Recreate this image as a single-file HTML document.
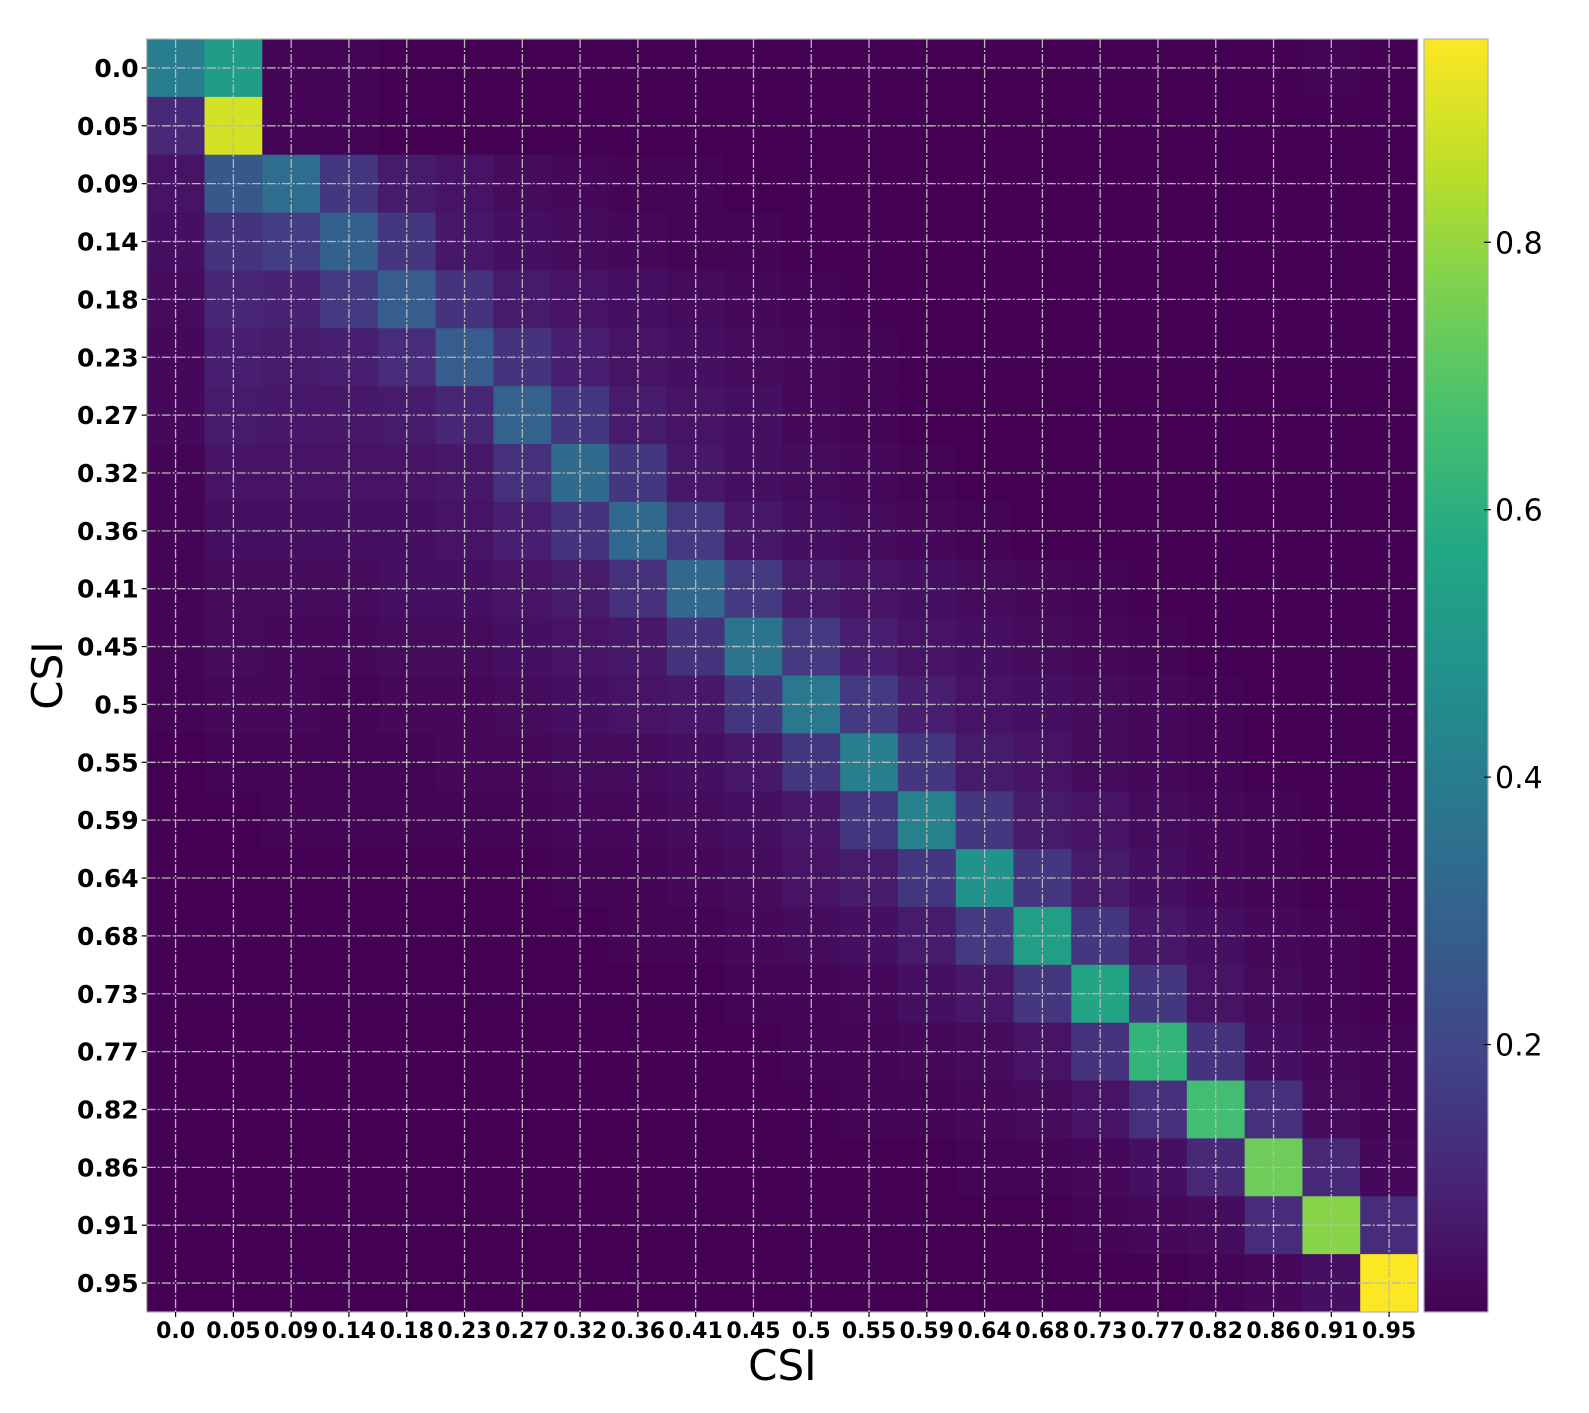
<!DOCTYPE html>
<html><head><meta charset="utf-8"><style>
html,body{margin:0;padding:0;background:#fff;}
svg text{font-family:"DejaVu Sans","Liberation Sans",sans-serif;fill:#000;}
</style></head><body>
<svg id="chart" width="1589" height="1408" viewBox="0 0 1589 1408" xmlns="http://www.w3.org/2000/svg">
<g id="cells"></g>
<g id="grid"></g>
<g id="axes"></g>
<g id="cbar"></g>
</svg>
<script>
const categories = ["0.0","0.05","0.09","0.14","0.18","0.23","0.27","0.32","0.36","0.41","0.45","0.5","0.55","0.59","0.64","0.68","0.73","0.77","0.82","0.86","0.91","0.95"];
const row00=[.40,.52,.01,.01,0,0,0,0,0,0,0,0,0,0,0,0,0,0,0,0,.01,0];
const row01=[.11,.89,.01,.01,0,0,0,0,0,0,0,0,0,0,0,0,0,0,0,0,0,0];
const row02=[.05,.26,.34,.15,.07,.05,.03,.02,.01,.01,0,0,0,0,0,0,0,0,0,0,0,0];
const row03=[.04,.14,.17,.29,.15,.06,.04,.03,.02,.01,.01,0,0,0,0,0,0,0,0,0,0,0];
const row04=[.03,.10,.09,.16,.28,.14,.07,.05,.04,.03,.02,.01,0,0,0,0,0,0,0,0,0,0];
const row05=[.02,.08,.07,.08,.12,.28,.14,.08,.05,.04,.03,.02,.01,0,0,0,0,0,0,0,0,0];
const row06=[.02,.07,.06,.06,.07,.10,.30,.15,.07,.05,.04,.02,.01,0,0,0,0,0,0,0,0,0];
const row07=[.01,.05,.05,.05,.05,.06,.13,.33,.15,.06,.04,.03,.02,.01,0,0,0,0,0,0,0,0];
const row08=[.01,.04,.04,.04,.04,.05,.08,.14,.32,.16,.06,.04,.03,.02,.01,0,0,0,0,0,0,0];
const row09=[.01,.03,.03,.03,.04,.04,.05,.07,.13,.32,.16,.07,.05,.04,.03,.02,.01,0,0,0,0,0];
const row10=[.01,.03,.02,.02,.03,.03,.04,.05,.06,.14,.36,.16,.08,.05,.04,.03,.02,.01,0,0,0,0];
const row11=[.01,.02,.02,.01,.02,.02,.03,.04,.05,.06,.15,.38,.16,.08,.05,.04,.03,.02,.01,0,0,0];
const row12=[0,.01,.01,.01,.01,.02,.02,.03,.03,.04,.06,.15,.40,.15,.07,.05,.03,.02,.01,0,0,0];
const row13=[0,0,.01,.01,.01,.01,.01,.02,.02,.03,.04,.06,.15,.42,.15,.07,.05,.03,.02,.01,0,0];
const row14=[0,0,0,0,0,0,0,.01,.01,.02,.03,.05,.07,.15,.48,.15,.07,.04,.02,.01,0,0];
const row15=[0,0,0,0,0,0,0,0,.01,.01,.02,.03,.04,.07,.16,.53,.15,.06,.04,.02,.01,0];
const row16=[0,0,0,0,0,0,0,0,0,0,.01,.01,.02,.04,.06,.15,.56,.15,.05,.03,.01,0];
const row17=[0,0,0,0,0,0,0,0,0,0,0,.01,.01,.02,.03,.05,.14,.62,.14,.04,.02,.01];
const row18=[0,0,0,0,0,0,0,0,0,0,0,0,.01,.01,.02,.03,.05,.13,.66,.13,.03,.01];
const row19=[0,0,0,0,0,0,0,0,0,0,0,0,0,0,.01,.01,.02,.04,.11,.74,.11,.02];
const row20=[0,0,0,0,0,0,0,0,0,0,0,0,0,0,0,0,.01,.02,.03,.12,.78,.12];
const row21=[0,0,0,0,0,0,0,0,0,0,0,0,0,0,0,0,0,0,.01,.02,.04,.95];
const matrix=[row00,row01,row02,row03,row04,row05,row06,row07,row08,row09,row10,row11,row12,row13,row14,row15,row16,row17,row18,row19,row20,row21];
const cbarTicks=[0.2,0.4,0.6,0.8];
const vmin=0, vmax=0.952;

const NS="http://www.w3.org/2000/svg";
const L=146.7, T=39, R=1418, B=1312;
const n=categories.length, cw=(R-L)/n, ch=(B-T)/n;
const xPos=i=>L+i*cw, yPos=j=>T+j*ch;
const vir=["#440154","#482475","#414487","#355f8d","#2a788e","#21918c","#22a884","#44bf70","#7ad151","#bddf26","#fde725"];
function hex(h){return [1,3,5].map(k=>parseInt(h.substr(k,2),16));}
function color(v){let t=Math.max(0,Math.min(1,(v-vmin)/(vmax-vmin)))*10;let i=Math.min(9,Math.floor(t)),f=t-i;const a=hex(vir[i]),b=hex(vir[i+1]);return "rgb("+a.map((c,k)=>Math.round(c+(b[k]-c)*f)).join(",")+")";}
function mk(tag,attrs,parent){const e=document.createElementNS(NS,tag);for(const k in attrs)e.setAttribute(k,attrs[k]);parent.appendChild(e);return e;}

const cells=document.getElementById('cells');
matrix.forEach((row,j)=>row.forEach((v,i)=>{
  const r=mk('rect',{x:xPos(i),y:yPos(j),width:cw+0.5,height:ch+0.5,fill:color(v)},cells);
  
  
}));
const grid=document.getElementById('grid');
for(let i=0;i<n;i++){
  const gx=mk('line',{x1:xPos(i)+cw/2,x2:xPos(i)+cw/2,y1:T,y2:B,stroke:"#b8b8b8","stroke-width":1.3,"stroke-dasharray":"9,2,2,2"},grid);
  
  
  const gy=mk('line',{y1:yPos(i)+ch/2,y2:yPos(i)+ch/2,x1:L,x2:R,stroke:"#b8b8b8","stroke-width":1.3,"stroke-dasharray":"9,2,2,2"},grid);
  
  
}
const axes=document.getElementById('axes');
const fr=mk('rect',{x:L,y:T,width:R-L,height:B-T,fill:"none",stroke:"#b0b0b0","stroke-width":1.2},axes);


categories.forEach((c,i)=>{
  const cx=xPos(i)+cw/2, cy=yPos(i)+ch/2;
  mk('line',{x1:cx,x2:cx,y1:B,y2:B+5,stroke:"#000","stroke-width":1.2},axes);
  mk('line',{x1:L-5,x2:L,y1:cy,y2:cy,stroke:"#000","stroke-width":1.2},axes);
  const xt=mk('text',{x:cx,y:B+26,"text-anchor":"middle","font-size":22,"font-weight":"bold"},axes);
  xt.textContent=c;
  
  
  const yt=mk('text',{x:L-8,y:cy+9,"text-anchor":"end","font-size":25,"font-weight":"bold"},axes);
  yt.textContent=c;
  
  
});
const xtitle=mk('text',{x:(L+R)/2,y:1380,"text-anchor":"middle","font-size":42},axes);
xtitle.textContent="CSI";


const ytitle=mk('text',{x:0,y:0,"text-anchor":"middle","font-size":42,transform:"translate(62,"+((T+B)/2)+") rotate(-90)"},axes);
ytitle.textContent="CSI";



const cb=document.getElementById('cbar');
const CL=1424, CR=1488;
const defs=mk('defs',{},cb);
const lg=mk('linearGradient',{id:"vg",x1:0,y1:1,x2:0,y2:0},defs);
vir.forEach((c,k)=>mk('stop',{offset:(k/10),"stop-color":c},lg));
const cbr=mk('rect',{x:CL,y:T,width:CR-CL,height:B-T,fill:"url(#vg)",stroke:"#b0b0b0","stroke-width":1.2},cb);


const cy=v=>B-(v-vmin)/(vmax-vmin)*(B-T);
cbarTicks.forEach(v=>{
  mk('line',{x1:CR-4,x2:CR+3,y1:cy(v),y2:cy(v),stroke:"#000","stroke-width":1.2},cb);
  const t=mk('text',{x:CR+7,y:cy(v)+11,"font-size":30},cb);
  t.textContent=String(v);
  
  
});
</script>
</body></html>
